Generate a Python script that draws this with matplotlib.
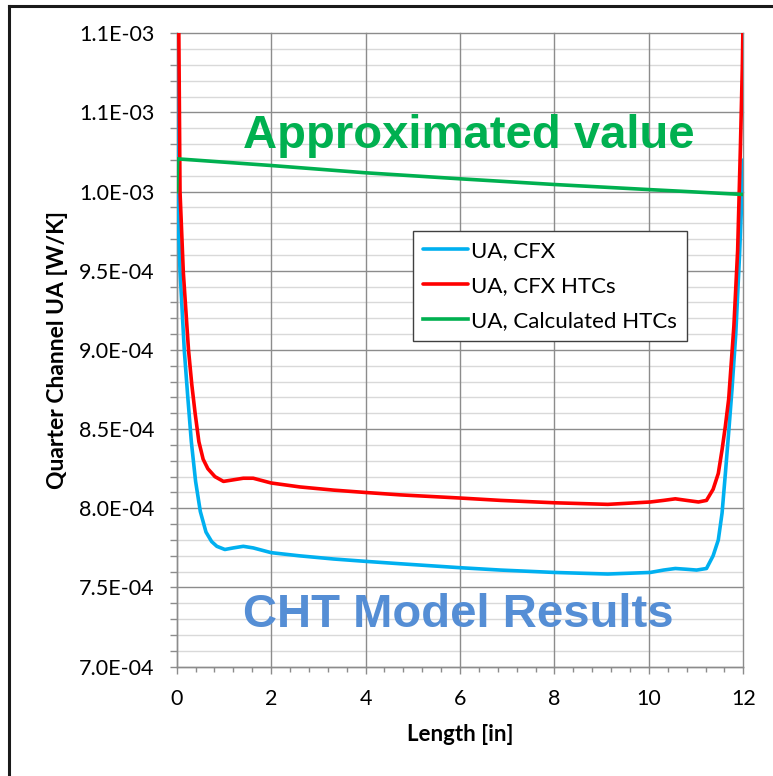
import numpy as np
import matplotlib
matplotlib.use('Agg')
import matplotlib.pyplot as plt
from matplotlib.lines import Line2D

plt.rcParams['font.family'] = ['Lato', 'DejaVu Sans']

# values, y in units of 1e-4 W/K
blue_x = [0.0, 0.01, 0.07, 0.16, 0.23, 0.31, 0.4, 0.5, 0.62, 0.74, 0.85, 1.02, 1.2, 1.41, 1.62, 2.0, 2.6, 3.32,
          4.0, 4.73, 6.0, 6.86, 8.0, 9.13, 10.03, 10.31, 10.56, 10.8, 11.01, 11.22, 11.36, 11.47, 11.55, 11.62,
          11.69, 11.76, 11.84, 11.92, 12.0]
blue_y = [11.6, 10.0, 9.5, 9.0, 8.72, 8.42, 8.17, 7.98, 7.85, 7.79, 7.76, 7.74, 7.75, 7.76, 7.75, 7.72, 7.70, 7.68,
          7.665, 7.65, 7.625, 7.61, 7.595, 7.585, 7.595, 7.61, 7.62, 7.615, 7.61, 7.62, 7.7, 7.8, 7.97, 8.22,
          8.48, 8.75, 9.1, 9.6, 10.2]

red_x = [0.04, 0.07, 0.14, 0.25, 0.32, 0.39, 0.47, 0.56, 0.66, 0.81, 0.99, 1.2, 1.41, 1.62, 2.0, 2.61, 3.32, 4.0,
         4.73, 6.0, 6.86, 8.0, 9.13, 10.03, 10.31, 10.56, 10.8, 11.05, 11.22, 11.36, 11.47, 11.55, 11.62, 11.69,
         11.8, 11.88, 11.94, 11.98, 12.0]
red_y = [11.2, 10.0, 9.49, 9.0, 8.78, 8.6, 8.42, 8.31, 8.25, 8.2, 8.17, 8.18, 8.19, 8.19, 8.16, 8.135, 8.115, 8.10,
         8.085, 8.065, 8.05, 8.035, 8.025, 8.04, 8.05, 8.06, 8.05, 8.04, 8.05, 8.12, 8.22, 8.37, 8.52, 8.69,
         9.15, 9.63, 10.3, 10.8, 11.2]

green_x = [0.0, 0.02, 2.0, 4.0, 6.0, 8.0, 10.0, 12.0]
green_y = [10.0, 10.207, 10.165, 10.119, 10.081, 10.045, 10.013, 9.982]

series_names = ['UA, CFX', 'UA, CFX HTCs', 'UA, Calculated HTCs']
y_ticks = [7.0, 7.5, 8.0, 8.5, 9.0, 9.5, 10.0, 10.5, 11.0]
y_tick_labels = ['7.0E-04', '7.5E-04', '8.0E-04', '8.5E-04', '9.0E-04', '9.5E-04', '1.0E-03', '1.1E-03', '1.1E-03']
x_ticks = [0, 2, 4, 6, 8, 10, 12]

fig = plt.figure(figsize=(7.73, 7.76), dpi=100)
ax = fig.add_axes([0.2286, 0.1409, 0.7330, 0.8162])

ax.plot(blue_x, np.array(blue_y) * 1e-4, color='#00B0F0', lw=2.6, label=series_names[0],
        solid_joinstyle='round', solid_capstyle='round', zorder=3)
ax.plot(red_x, np.array(red_y) * 1e-4, color='#FF0000', lw=2.6, label=series_names[1],
        solid_joinstyle='round', solid_capstyle='round', zorder=3)
ax.plot(green_x, np.array(green_y) * 1e-4, color='#00B050', lw=2.6, label=series_names[2],
        solid_joinstyle='round', zorder=3)

ax.set_xlim(0, 12)
ax.set_ylim(7.0e-4, 11.0e-4)
ax.set_xticks(x_ticks)
ax.set_xticks(np.arange(0, 12.01, 0.4), minor=True)
ax.set_yticks(np.array(y_ticks) * 1e-4)
ax.set_yticklabels(y_tick_labels)
ax.set_yticks(np.arange(70, 110.5, 1) * 1e-5, minor=True)

# grid drawn by hand so the minor lines always show
for v in np.arange(70, 110.5, 1):
    if v % 5 != 0:
        ax.axhline(v * 1e-5, color='#D9D9D9', lw=1.0, zorder=0.5)
for v in y_ticks:
    ax.axhline(v * 1e-4, color='#8C8C8C', lw=1.0, zorder=0.6, clip_on=False)
for v in x_ticks:
    ax.axvline(v, color='#8C8C8C', lw=1.0, zorder=0.6, clip_on=False)

for s in ['top', 'right']:
    ax.spines[s].set_visible(False)
for s in ['left', 'bottom']:
    ax.spines[s].set_color('#8C8C8C')
    ax.spines[s].set_linewidth(1.0)

ax.tick_params(axis='both', which='major', length=5, width=1, color='#8C8C8C', labelsize=15.5, labelcolor='black')
ax.tick_params(axis='y', which='major', pad=11)
ax.tick_params(axis='x', which='major', pad=11)
ax.tick_params(axis='y', which='minor', length=5, width=1, color='#8C8C8C')
ax.tick_params(axis='x', which='minor', length=3.5, width=1, color='#8C8C8C')

ax.set_xlabel('Length [in]', fontsize=16, fontweight='bold', labelpad=11)
ax.set_ylabel('Quarter Channel UA [W/K]', fontsize=16.5, fontweight='bold', labelpad=8)

leg = ax.legend(loc='upper left', bbox_to_anchor=(0.4176, 0.688), borderaxespad=0, fontsize=16,
                fancybox=False, edgecolor='#404040', framealpha=1, handlelength=2.0, handletextpad=0.15,
                labelspacing=0.68, borderpad=0.45)
leg.get_frame().set_linewidth(1.0)
leg.set_zorder(5)

ax.text(6.18, 10.277e-4, 'Approximated value', color='#00B050', fontsize=34, fontweight='bold',
        family='Liberation Sans', ha='center', va='baseline', zorder=4)
ax.text(5.96, 7.249e-4, 'CHT Model Results', color='#558ED5', fontsize=34, fontweight='bold',
        family='Liberation Sans', ha='center', va='baseline', zorder=4)

# outer chart frame (left and top edges are visible)
fig.add_artist(Line2D([0.0113, 0.0113], [0.0, 0.992], transform=fig.transFigure, color='#1A1A1A', lw=2.2))
fig.add_artist(Line2D([0.0113, 1.0], [0.992, 0.992], transform=fig.transFigure, color='#1A1A1A', lw=2.2))

fig.savefig('out.png', dpi=100)
